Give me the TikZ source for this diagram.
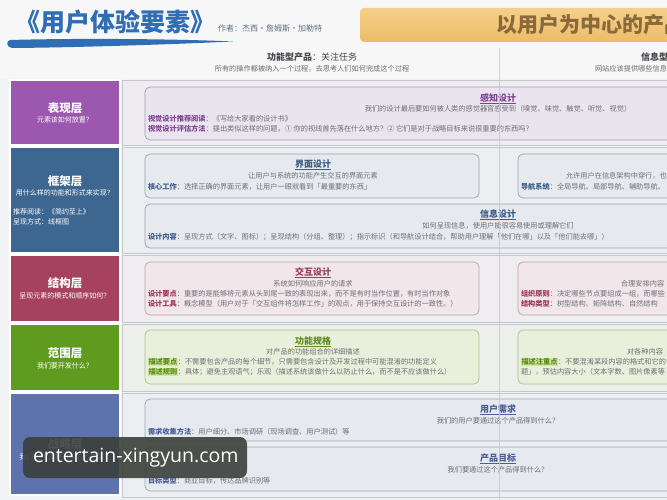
\documentclass[tikz,border=0pt]{standalone}
\usepackage{fontspec}
\setmainfont{Noto Sans CJK SC}
\newfontfamily\wmfont{Open Sans}
\definecolor{bgc}{HTML}{F2F3F5}
\definecolor{topbg}{HTML}{F7F7F8}
\definecolor{titleblue}{HTML}{2F6DB5}
\definecolor{bannertop}{HTML}{F5D08A}
\definecolor{bannerbot}{HTML}{ECBD68}
\definecolor{bannertxt}{HTML}{8A6A3C}
\definecolor{authorc}{HTML}{5F6F85}
\definecolor{txt}{HTML}{6E6E74}
\definecolor{hdr}{HTML}{45454A}
\definecolor{Lpurple}{HTML}{9B58AE}
\definecolor{Lteal}{HTML}{3D6790}
\definecolor{Lred}{HTML}{A6425F}
\definecolor{Lgreen}{HTML}{5F9B1F}
\definecolor{Lblue}{HTML}{5E72AE}
\definecolor{rowline}{HTML}{C3C7CD}
\definecolor{rowA}{HTML}{EEECF1}
\definecolor{rowB}{HTML}{ECEEF1}
\definecolor{rowC}{HTML}{EFEDEF}
\definecolor{rowD}{HTML}{EDF0EA}
\definecolor{rowE}{HTML}{ECEEF2}
\definecolor{fillA}{HTML}{E9E4EE}
\definecolor{drawA}{HTML}{A79CB0}
\definecolor{fillB}{HTML}{E6EAEE}
\definecolor{drawB}{HTML}{98A2AD}
\definecolor{fillC}{HTML}{F1E6EA}
\definecolor{drawC}{HTML}{BBA3AC}
\definecolor{fillD}{HTML}{E8F0DC}
\definecolor{drawD}{HTML}{AABE8C}
\definecolor{fillE}{HTML}{E6E9EF}
\definecolor{drawE}{HTML}{A0A7B8}
\definecolor{tA}{HTML}{7E4394}
\definecolor{tB}{HTML}{3B5E86}
\definecolor{tC}{HTML}{9B3B5C}
\definecolor{tD}{HTML}{5E8C1C}
\definecolor{tE}{HTML}{4B5E96}
\definecolor{hlgreen}{HTML}{CFE6A2}
\definecolor{wmc}{HTML}{3B403B}
\newcommand\mylab[2]{{\bfseries\color{#1}#2}}
\newcommand\myhlab[1]{{\setlength{\fboxsep}{0.5pt}\colorbox{hlgreen}{\bfseries\color{tD}#1}}}
\begin{document}
\begin{tikzpicture}[x=1pt,y=-1pt,
  every node/.style={inner sep=0pt, outer sep=0pt},
  layerbox/.style={fill=#1, draw=white, line width=1.2pt, anchor=north west, minimum width=110pt},
  rowband/.style={fill=#1, draw=rowline, line width=0.6pt, anchor=north west, minimum width=560pt},
  cbox/.style={draw=#1, rounded corners=5pt, line width=0.7pt, anchor=north west},
  ltitle/.style={text=white, font=\fontsize{11.5}{12}\selectfont\bfseries},
  lsub/.style={text=white, font=\fontsize{7}{8}\selectfont},
  btitle/.style={text=#1, font=\fontsize{9}{10}\selectfont\bfseries},
  bsub/.style={text=txt, font=\fontsize{7.2}{8}\selectfont},
  bline/.style={text=txt, font=\fontsize{7.2}{8}\selectfont, anchor=west},
  uline/.style={draw=#1, line width=0.5pt},
]
\useasboundingbox (0,0) rectangle (667,500);
\clip (0,0) rectangle (667,500);
\fill[bgc] (0,0) rectangle (667,500);
\fill[topbg] (0,0) rectangle (667,78);

% title
\node[text=titleblue, font=\fontsize{25}{27}\selectfont\bfseries, anchor=west] (title) at (16,22) {《用户体验要素》};
\fill[titleblue] (10,40) .. controls (80,38) and (180,39) .. (233,41.5) .. controls (180,44) and (80,47.5) .. (12,48) .. controls (6,47) and (6,41) .. (10,40) -- cycle;
\node[text=authorc, font=\fontsize{8}{9}\selectfont, anchor=west] (author) at (218,29) {作者：杰西·詹姆斯·加勒特};

% banner
\node[top color=bannertop, bottom color=bannerbot, rounded corners=4pt, minimum width=340pt, minimum height=34pt, anchor=north west] (banner) at (360,8) {};
\node[text=bannertxt, font=\fontsize{21}{23}\selectfont\bfseries, anchor=west] (bannertext) at (496,25) {以用户为中心的产品设计};

% column headers
\node[text=hdr, font=\fontsize{9}{10}\selectfont] (h1) at (312,57) {{\bfseries 功能型产品}：关注任务};
\node[bsub] (h1s) at (312,69) {所有的操作都被纳入一个过程，去思考人们如何完成这个过程};
\node[text=hdr, font=\fontsize{9}{10}\selectfont, anchor=west] (h2) at (641,57) {\bfseries 信息型产品};
\node[bline] (h2s) at (595,69) {网站应该提供哪些信息};

% row bands
\node[rowband=rowA, minimum height=65pt] (R1) at (122,80) {};
\node[rowband=rowB, minimum height=106pt] (R2) at (122,147) {};
\node[rowband=rowC, minimum height=67pt] (R3) at (122,255) {};
\node[rowband=rowD, minimum height=67pt] (R4) at (122,324) {};
\node[rowband=rowE, minimum height=104pt] (R5) at (122,393) {};

% layer boxes
\node[layerbox=Lpurple, minimum height=65pt] (L1) at (10,80) {};
\node[layerbox=Lteal, minimum height=106pt] (L2) at (10,147) {};
\node[layerbox=Lred, minimum height=67pt] (L3) at (10,255) {};
\node[layerbox=Lgreen, minimum height=67pt] (L4) at (10,324) {};
\node[layerbox=Lblue, minimum height=102pt] (L5) at (10,393) {};

\node[ltitle] (L1t) at (65,108) {表现层};
\node[lsub] (L1s) at (65,120) {元素该如何放置？};
\node[ltitle] (L2t) at (65,181) {框架层};
\node[lsub] (L2s) at (65,193) {用什么样的功能和形式来实现？};
\node[lsub, anchor=west] (L2a) at (13,212) {推荐阅读：《简约至上》};
\node[lsub, anchor=west] (L2b) at (13,222) {呈现方式：线框图};
\node[ltitle] (L3t) at (65,283) {结构层};
\node[lsub] (L3s) at (65,296) {呈现元素的模式和顺序如何？};
\node[ltitle] (L4t) at (65,353) {范围层};
\node[lsub] (L4s) at (65,366) {我们要开发什么？};
\node[ltitle] (L5t) at (65,444) {战略层};
\node[lsub] (L5s) at (65,457) {我们为什么要开发这个产品？};

% row 1: perception
\node[cbox=drawA, fill=fillA, minimum width=540pt, minimum height=53pt] (B1) at (145,87) {};
\node[btitle=tA] (B1t) at (498,98) {感知设计};
\draw[uline=tA] ([yshift=-1pt]B1t.south west) -- ([yshift=-1pt]B1t.south east);
\node[bsub] (B1s) at (498,109) {我们的设计最后要如何被人类的感觉器官感受到（嗅觉、味觉、触觉、听觉、视觉）};
\node[bline] (B1a) at (148,119) {\mylab{tA}{视觉设计推荐阅读}：《写给大家看的设计书》};
\node[bline] (B1b) at (148,129) {\mylab{tA}{视觉设计评估方法}：提出类似这样的问题，① 你的视线首先落在什么地方？② 它们是对于战略目标来说很重要的东西吗？};

% row 2: skeleton
\node[cbox=drawB, fill=fillB, minimum width=334pt, minimum height=44pt] (B2) at (145,154) {};
\node[btitle=tB] (B2t) at (313,164) {界面设计};
\draw[uline=tB] ([yshift=-1pt]B2t.south west) -- ([yshift=-1pt]B2t.south east);
\node[bsub] (B2s) at (313,176) {让用户与系统的功能产生交互的界面元素};
\node[bline] (B2a) at (148,187) {\mylab{tB}{核心工作}：选择正确的界面元素，让用户一眼就看到「最重要的东西」};

\node[cbox=drawB, fill=fillB, minimum width=300pt, minimum height=44pt] (B2r) at (518,154) {};
\node[bline] (B2rs) at (566,176) {允许用户在信息架构中穿行，也};
\node[bline] (B2ra) at (521,187) {\mylab{tB}{导航系统}：全局导航、局部导航、辅助导航、};

\node[cbox=drawB, fill=fillB, minimum width=540pt, minimum height=44pt] (B3) at (145,204) {};
\node[btitle=tB] (B3t) at (498,214) {信息设计};
\draw[uline=tB] ([yshift=-1pt]B3t.south west) -- ([yshift=-1pt]B3t.south east);
\node[bsub] (B3s) at (498,226) {如何呈现信息，使用户能很容易使用或理解它们};
\node[bline] (B3a) at (148,237) {\mylab{tB}{设计内容}：呈现方式（文字、图标）；呈现结构（分组、整理）；指示标识（和导航设计结合，帮助用户理解「他们在哪」以及「他们能去哪」）};

% row 3: structure
\node[cbox=drawC, fill=fillC, minimum width=334pt, minimum height=53pt] (B4) at (145,262) {};
\node[btitle=tC] (B4t) at (313,272) {交互设计};
\draw[uline=tC] ([yshift=-1pt]B4t.south west) -- ([yshift=-1pt]B4t.south east);
\node[bsub] (B4s) at (313,284) {系统如何响应用户的请求};
\node[bline] (B4a) at (148,294) {\mylab{tC}{设计要点}：重要的是能够将元素从头到尾一致的表现出来，而不是有时当作位置，有时当作对象};
\node[bline] (B4b) at (148,304) {\mylab{tC}{设计工具}：概念模型（用户对于「交互组件将怎样工作」的观点，用于保持交互设计的一致性。）};

\node[cbox=drawC, fill=fillC, minimum width=300pt, minimum height=53pt] (B4r) at (518,262) {};
\node[bline] (B4rs) at (621,284) {合理安排内容};
\node[bline] (B4ra) at (521,294) {\mylab{tC}{组织原则}：决定哪些节点要组成一组，而哪些};
\node[bline] (B4rb) at (521,304) {\mylab{tC}{结构类型}：树型结构、矩阵结构、自然结构};

% row 4: scope
\node[cbox=drawD, fill=fillD, minimum width=334pt, minimum height=54pt] (B5) at (145,330) {};
\node[btitle=tD] (B5t) at (313,341) {功能规格};
\draw[uline=tD] ([yshift=-1pt]B5t.south west) -- ([yshift=-1pt]B5t.south east);
\node[bsub] (B5s) at (313,352) {对产品的功能组合的详细描述};
\node[bline] (B5a) at (148,362) {\myhlab{描述要点}：不需要包含产品的每个细节，只需要包含设计及开发过程中可能混淆的功能定义};
\node[bline] (B5b) at (148,372) {\myhlab{描述规则}：具体；避免主观语气；乐观（描述系统该做什么以防止什么，而不是不应该做什么）};

\node[cbox=drawD, fill=fillD, minimum width=300pt, minimum height=54pt] (B5r) at (518,330) {};
\node[bline] (B5rs) at (627,352) {对各种内容};
\node[bline] (B5ra) at (521,362) {\myhlab{描述注重点}：不要混淆某段内容的格式和它的};
\node[bline] (B5rb) at (521,372) {题」，预估内容大小（文本字数、图片像素等};

% row 5: strategy
\node[cbox=drawE, fill=fillE, minimum width=540pt, minimum height=42pt] (B6) at (145,399) {};
\node[btitle=tE] (B6t) at (498,409) {用户需求};
\draw[uline=tE] ([yshift=-1pt]B6t.south west) -- ([yshift=-1pt]B6t.south east);
\node[bsub] (B6s) at (498,421) {我们的用户要通过这个产品得到什么？};
\node[bline] (B6a) at (148,432) {\mylab{tE}{需求收集方法}：用户细分、市场调研（现场调查、用户测试）等};

\node[cbox=drawE, fill=fillE, minimum width=540pt, minimum height=44pt] (B7) at (145,447) {};
\node[btitle=tE] (B7t) at (498,458) {产品目标};
\draw[uline=tE] ([yshift=-1pt]B7t.south west) -- ([yshift=-1pt]B7t.south east);
\node[bsub] (B7s) at (498,470) {我们要通过这个产品得到什么？};
\node[bline] (B7a) at (148,481) {\mylab{tE}{目标类型}：商业目标，传达品牌识别等};

% column divider
\coordinate (dtop) at (499,48);
\coordinate (dbot) at (499,500);
\draw[rowline, line width=0.6pt, opacity=0.8] (dtop) -- (dbot);

% watermark
\node[fill=wmc, fill opacity=0.9, rounded corners=7pt, minimum width=224pt, minimum height=41pt, anchor=north west] (wm) at (23,437) {};
\node[text=white, font=\wmfont\fontsize{19.5}{21}\selectfont, anchor=west] (wmt) at (33,458) {entertain-xingyun.com};
\end{tikzpicture}
\end{document}
